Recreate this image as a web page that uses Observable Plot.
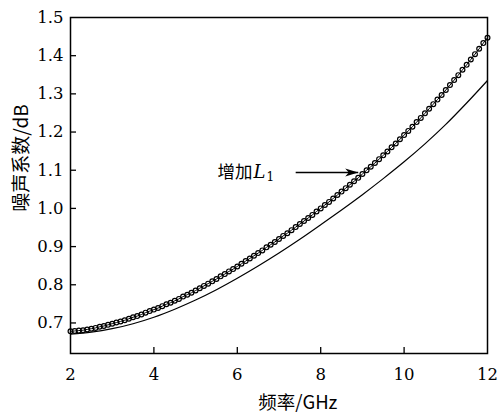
<!DOCTYPE html>
<html>
<head>
<meta charset="utf-8">
<script src="https://cdn.jsdelivr.net/npm/d3@7"></script>
<script src="https://cdn.jsdelivr.net/npm/@observablehq/plot@0.6"></script>
<style>
  html, body { margin: 0; padding: 0; background: white; }
</style>
</head>
<body>
<div id="chart"></div>
<script>
// frequency sweep (GHz) for the marked curve (增加 L1)
const freqFine = [
  2.0,2.1,2.2,2.3,2.4,2.5,2.6,2.7,2.8,2.9,
  3.0,3.1,3.2,3.3,3.4,3.5,3.6,3.7,3.8,3.9,
  4.0,4.1,4.2,4.3,4.4,4.5,4.6,4.7,4.8,4.9,
  5.0,5.1,5.2,5.3,5.4,5.5,5.6,5.7,5.8,5.9,
  6.0,6.1,6.2,6.3,6.4,6.5,6.6,6.7,6.8,6.9,
  7.0,7.1,7.2,7.3,7.4,7.5,7.6,7.7,7.8,7.9,
  8.0,8.1,8.2,8.3,8.4,8.5,8.6,8.7,8.8,8.9,
  9.0,9.1,9.2,9.3,9.4,9.5,9.6,9.7,9.8,9.9,
  10.0,10.1,10.2,10.3,10.4,10.5,10.6,10.7,10.8,10.9,
  11.0,11.1,11.2,11.3,11.4,11.5,11.6,11.7,11.8,11.9,
  12.0
];
// noise figure (dB) with increased L1 (marked curve)
const nfIncreasedL1 = [
  0.678,0.679,0.680,0.681,0.683,0.685,0.687,0.690,0.692,0.695,
  0.698,0.701,0.704,0.707,0.711,0.715,0.718,0.722,0.727,0.731,
  0.735,0.739,0.744,0.749,0.753,0.758,0.763,0.769,0.774,0.779,
  0.785,0.791,0.797,0.803,0.809,0.815,0.822,0.828,0.835,0.841,
  0.848,0.855,0.862,0.869,0.876,0.883,0.890,0.898,0.905,0.912,
  0.920,0.928,0.935,0.943,0.951,0.959,0.967,0.975,0.983,0.992,
  1.000,1.009,1.017,1.026,1.035,1.044,1.053,1.062,1.071,1.080,
  1.090,1.100,1.109,1.119,1.129,1.139,1.149,1.160,1.170,1.181,
  1.192,1.203,1.214,1.226,1.237,1.249,1.261,1.273,1.285,1.297,
  1.310,1.323,1.336,1.349,1.363,1.376,1.390,1.404,1.418,1.433,
  1.447
];
// original design (plain line)
const freqBase = [2,2.5,3,3.5,4,4.5,5,5.5,6,6.5,7,7.5,8,8.5,9,9.5,10,10.5,11,11.5,12];
const nfBase   = [0.671,0.676,0.685,0.698,0.715,0.736,0.760,0.787,0.817,0.849,0.883,0.919,0.957,0.996,1.036,1.078,1.122,1.169,1.220,1.276,1.335];

const xTicks = [2,4,6,8,10,12];
const yTicks = [0.7,0.8,0.9,1.0,1.1,1.2,1.3,1.4,1.5];
const xDomain = [2, 12];
const yDomain = [0.62, 1.5];

const xTitle = "频率/GHz";
const yTitle = "噪声系数/dB";
const annotText = "增加";
const annotVar = "L";
const annotSub = "1";
// annotation anchor (data units)
const annotTextX = [6.39];
const annotY = [1.094];
const arrowFrom = [7.4];
const arrowTo = [8.9];
const xTitleAt = [7.45];
const yTitleAt = [1.132];

const marked = freqFine.map((f, i) => ({f, nf: nfIncreasedL1[i]}));
const base = freqBase.map((f, i) => ({f, nf: nfBase[i]}));

const serif = "'DejaVu Serif', 'Liberation Serif', serif";
const cjk = "'Noto Sans CJK SC', 'Noto Sans', sans-serif";

const W = 499, H = 417;
const mL = 70, mR = 12, mT = 17, mB = 64;
const innerH = H - mT - mB;
const innerW = W - mL - mR;
const tickLen = 6;

// filled barbed arrow head, tip at origin, pointing right
const arrowHead = {
  draw(ctx) {
    ctx.moveTo(0, 0);
    ctx.lineTo(-13, -4);
    ctx.lineTo(-9.5, 0);
    ctx.lineTo(-13, 4);
    ctx.closePath();
  }
};

const chart = Plot.plot({
  width: W,
  height: H,
  marginLeft: mL,
  marginRight: mR,
  marginTop: mT,
  marginBottom: mB,
  style: {fontFamily: serif, fontSize: "16px", background: "white", color: "black", overflow: "visible"},
  x: {domain: xDomain, ticks: xTicks, label: null},
  y: {domain: yDomain, ticks: yTicks, label: null},
  marks: [
    Plot.axisX(xTicks, {tickSize: 0, tickPadding: 15, fontSize: 16.5, fontFamily: serif, label: null, tickFormat: d => String(d)}),
    Plot.axisY(yTicks, {tickSize: 0, tickPadding: 7, fontSize: 16.5, fontFamily: serif, label: null, tickFormat: d3.format(".1f")}),
    // inward ticks
    Plot.tickX(xTicks.slice(1, -1), {x: d => d, insetTop: innerH - tickLen, stroke: "black", strokeWidth: 1.3}),
    Plot.tickY(yTicks.slice(0, -1), {y: d => d, insetRight: innerW - tickLen, stroke: "black", strokeWidth: 1.3}),
    Plot.frame({stroke: "black", strokeWidth: 1.5}),
    Plot.line(base, {x: "f", y: "nf", stroke: "black", strokeWidth: 1.2, curve: "catmull-rom"}),
    Plot.line(marked, {x: "f", y: "nf", stroke: "black", strokeWidth: 1}),
    Plot.dot(marked, {x: "f", y: "nf", r: 2.4, stroke: "black", strokeWidth: 1.2, fill: "none"}),
    // annotation
    Plot.link(arrowFrom, {x1: d => d, x2: (d, i) => arrowTo[i], y1: annotY, y2: annotY, stroke: "black", strokeWidth: 1.4}),
    Plot.dot(arrowTo, {x: d => d, y: annotY, symbol: arrowHead, fill: "black", stroke: "none", r: 4}),
    Plot.text([annotText], {x: annotTextX, y: annotY, textAnchor: "end", lineAnchor: "middle", dx: -1, fontFamily: cjk, fontSize: 17.5, fill: "black"}),
    Plot.text([annotVar], {x: annotTextX, y: annotY, textAnchor: "start", lineAnchor: "middle", dx: 0, fontFamily: serif, fontStyle: "italic", fontSize: 18, fill: "black"}),
    Plot.text([annotSub], {x: annotTextX, y: annotY, textAnchor: "start", lineAnchor: "middle", dx: 13, dy: 5, fontFamily: serif, fontSize: 12, fill: "black"}),
    // axis titles
    Plot.text([xTitle], {x: xTitleAt, frameAnchor: "bottom", textAnchor: "middle", lineAnchor: "middle", dy: 50, fontFamily: cjk, fontSize: 18.5, fill: "black"}),
    Plot.text([yTitle], {y: yTitleAt, frameAnchor: "left", textAnchor: "middle", lineAnchor: "middle", dx: -49, rotate: -90, fontFamily: cjk, fontSize: 19, fill: "black"})
  ]
});
document.getElementById("chart").appendChild(chart);
</script>
</body>
</html>
